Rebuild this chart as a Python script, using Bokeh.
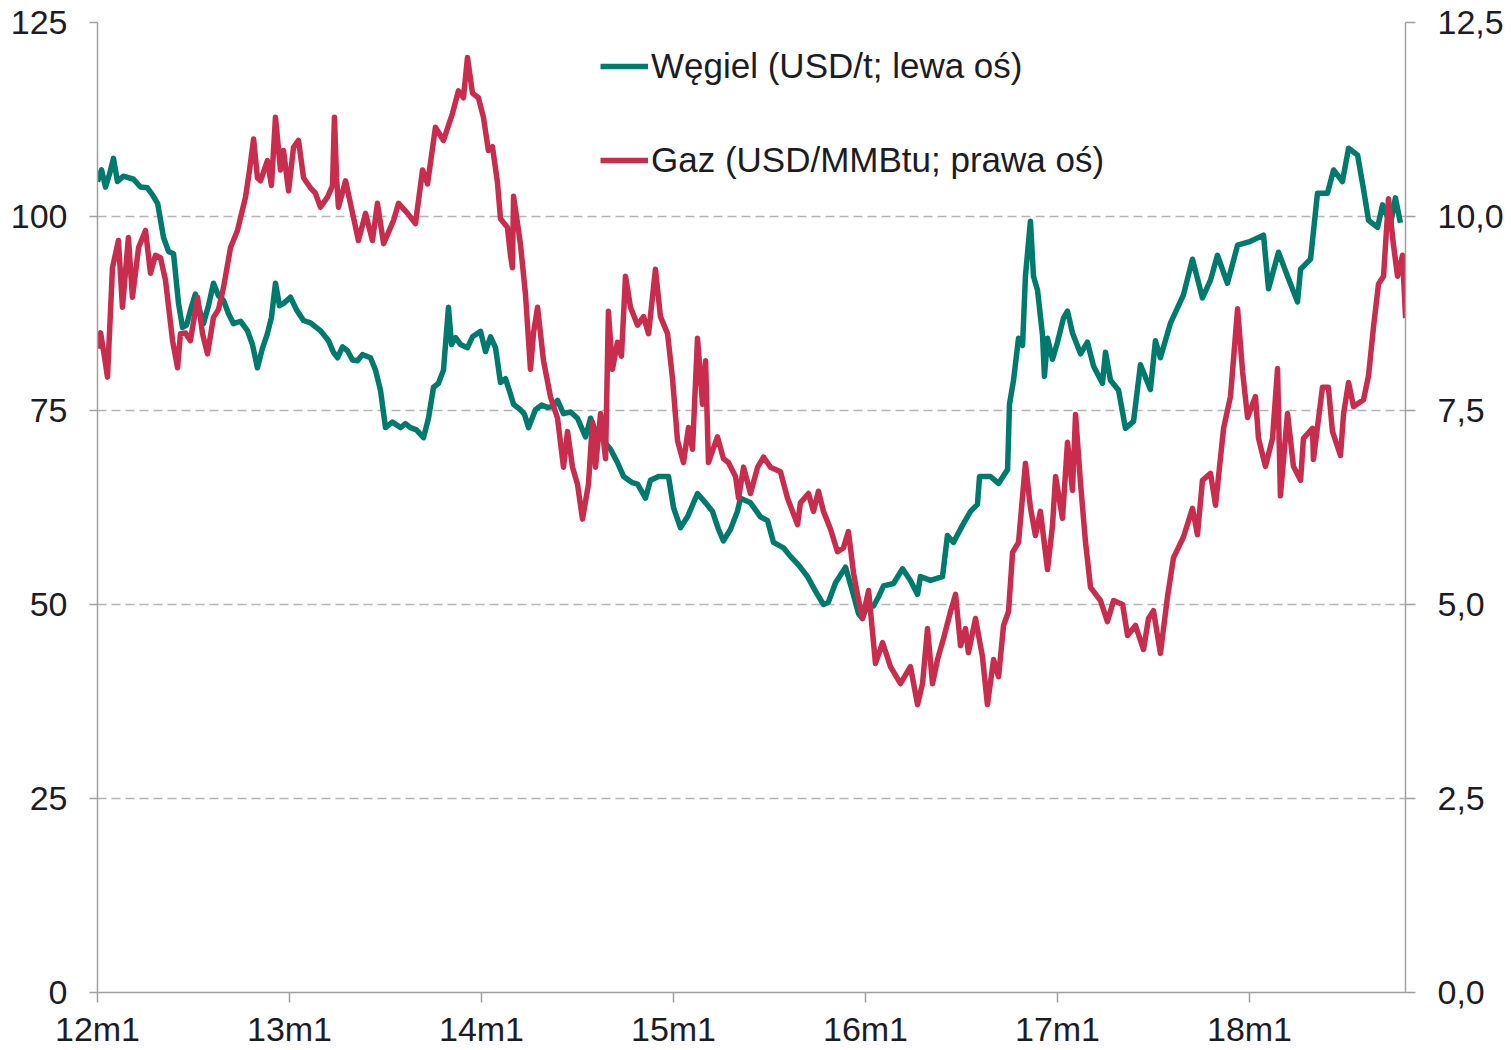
from bokeh.plotting import figure
from bokeh.models import Range1d, LinearAxis, FixedTicker, Legend, LegendItem
from bokeh.embed import file_html
from bokeh.resources import INLINE

# ---------------- data ----------------
# time in decimal years; coal in USD/t (left axis), gas in USD/MMBtu (right axis)
coal_t = [
    2012.000, 2012.021, 2012.042, 2012.063, 2012.083, 2012.104, 2012.135, 2012.188,
    2012.224, 2012.260, 2012.286, 2012.313, 2012.344, 2012.370, 2012.396, 2012.422,
    2012.443, 2012.464, 2012.484, 2012.510, 2012.531, 2012.552, 2012.578, 2012.604,
    2012.630, 2012.656, 2012.682, 2012.708, 2012.745, 2012.781, 2012.807, 2012.833,
    2012.859, 2012.885, 2012.906, 2012.927, 2012.948, 2012.969, 2013.005, 2013.036,
    2013.073, 2013.109, 2013.161, 2013.203, 2013.229, 2013.250, 2013.276, 2013.302,
    2013.328, 2013.354, 2013.380, 2013.422, 2013.448, 2013.474, 2013.500, 2013.536,
    2013.578, 2013.604, 2013.630, 2013.661, 2013.698, 2013.724, 2013.750, 2013.776,
    2013.802, 2013.828, 2013.844, 2013.865, 2013.891, 2013.927, 2013.953, 2013.995,
    2014.021, 2014.047, 2014.073, 2014.099, 2014.125, 2014.146, 2014.167, 2014.203,
    2014.224, 2014.245, 2014.281, 2014.313, 2014.344, 2014.370, 2014.396, 2014.427,
    2014.464, 2014.500, 2014.542, 2014.568, 2014.594, 2014.635, 2014.672, 2014.708,
    2014.740, 2014.786, 2014.813, 2014.854, 2014.880, 2014.922, 2014.974, 2015.000,
    2015.036, 2015.073, 2015.125, 2015.167, 2015.203, 2015.234, 2015.260, 2015.297,
    2015.333, 2015.349, 2015.401, 2015.453, 2015.490, 2015.521, 2015.573, 2015.609,
    2015.651, 2015.698, 2015.740, 2015.781, 2015.807, 2015.844, 2015.896, 2015.932,
    2015.964, 2015.984, 2016.010, 2016.042, 2016.068, 2016.094, 2016.146, 2016.193,
    2016.234, 2016.271, 2016.286, 2016.339, 2016.401, 2016.427, 2016.458, 2016.505,
    2016.547, 2016.583, 2016.594, 2016.651, 2016.693, 2016.740, 2016.750, 2016.771,
    2016.797, 2016.818, 2016.833, 2016.859, 2016.875, 2016.896, 2016.922, 2016.932,
    2016.948, 2016.974, 2017.000, 2017.031, 2017.052, 2017.078, 2017.120, 2017.156,
    2017.188, 2017.234, 2017.250, 2017.276, 2017.318, 2017.354, 2017.396, 2017.432,
    2017.484, 2017.510, 2017.536, 2017.589, 2017.656, 2017.703, 2017.755, 2017.797,
    2017.833, 2017.885, 2017.938, 2018.005, 2018.073, 2018.099, 2018.151, 2018.198,
    2018.250, 2018.266, 2018.318, 2018.354, 2018.406, 2018.438, 2018.484, 2018.516,
    2018.563, 2018.594, 2018.620, 2018.667, 2018.693, 2018.734, 2018.760, 2018.786,
]
coal_v = [
    104.5, 106, 103.8, 105.5, 107.5, 104.5, 105.2, 104.8,
    103.8, 103.7, 102.8, 101.7, 97.3, 95.5, 95.2, 88.8,
    85.7, 86, 87.9, 90, 88, 86.2, 88.5, 91.4,
    89.8, 89.2, 87.5, 86.2, 86.5, 85.3, 83.5, 80.5,
    83, 84.9, 87, 91.4, 88.5, 88.8, 89.6, 88,
    86.6, 86.3, 85.3, 84, 82.5, 81.8, 83.2, 82.7,
    81.5, 81.4, 82.2, 81.8, 80.2, 77.6, 72.8, 73.5,
    72.8, 73.3, 72.8, 72.5, 71.5, 74, 78, 78.5,
    80.2, 88.3, 83.5, 84.4, 83.5, 83.1, 84.5, 85.2,
    82.6, 84.5, 83.1, 78.6, 79.1, 77.5, 75.8, 75.1,
    74.5, 72.8, 75.1, 75.7, 75.4, 75.5, 76.3, 74.6,
    74.8, 74, 71.6, 74, 72.3, 71.1, 70, 68.3,
    66.5, 65.7, 65.5, 63.7, 66, 66.5, 66.5, 62.5,
    59.9, 61.3, 64.3, 63.1, 62, 59.7, 58.2, 59.7,
    62, 63.7, 63.1, 61.3, 60.8, 58, 57.3, 56.2,
    55.1, 53.6, 51.7, 50, 50.3, 52.8, 54.8, 51.7,
    48.8, 48.2, 50, 49.8, 51, 52.4, 52.7, 54.6,
    53.1, 51.3, 53.6, 53.1, 53.6, 58.9, 58, 60.2,
    62, 62.9, 66.5, 66.5, 65.6, 67.4, 75.8, 78.9,
    84.3, 83.4, 92.3, 99.4, 92.3, 90.5, 84.7, 79.4,
    84.3, 81.6, 83.8, 86.9, 87.8, 85, 82.3, 83.8,
    80.7, 78.5, 82.5, 78.9, 77.6, 72.7, 73.6, 80.9,
    77.7, 84, 81.8, 86.3, 89.9, 94.5, 89.5, 91.8,
    95, 91.4, 96.3, 96.8, 97.6, 90.7, 95.4, 92.3,
    89, 93.2, 94.5, 103, 103, 106, 104.5, 108.8,
    107.9, 103.5, 99.5, 98.6, 101.5, 99, 102.4, 99.2,
]

gas_t = [
    2012.000, 2012.016, 2012.036, 2012.052, 2012.078, 2012.109, 2012.130, 2012.161,
    2012.182, 2012.214, 2012.250, 2012.276, 2012.302, 2012.328, 2012.354, 2012.391,
    2012.417, 2012.432, 2012.458, 2012.484, 2012.521, 2012.547, 2012.573, 2012.604,
    2012.630, 2012.656, 2012.693, 2012.729, 2012.771, 2012.792, 2012.813, 2012.833,
    2012.849, 2012.885, 2012.906, 2012.927, 2012.953, 2012.969, 2012.995, 2013.021,
    2013.047, 2013.073, 2013.109, 2013.135, 2013.161, 2013.198, 2013.224, 2013.234,
    2013.245, 2013.255, 2013.292, 2013.333, 2013.359, 2013.396, 2013.432, 2013.458,
    2013.490, 2013.542, 2013.568, 2013.615, 2013.656, 2013.693, 2013.719, 2013.760,
    2013.802, 2013.849, 2013.880, 2013.906, 2013.927, 2013.953, 2013.984, 2014.010,
    2014.036, 2014.057, 2014.083, 2014.099, 2014.135, 2014.151, 2014.161, 2014.167,
    2014.188, 2014.203, 2014.229, 2014.255, 2014.271, 2014.292, 2014.323, 2014.359,
    2014.396, 2014.427, 2014.448, 2014.474, 2014.500, 2014.526, 2014.557, 2014.578,
    2014.594, 2014.620, 2014.646, 2014.661, 2014.682, 2014.708, 2014.729, 2014.750,
    2014.776, 2014.813, 2014.844, 2014.870, 2014.906, 2014.932, 2014.969, 2014.995,
    2015.021, 2015.052, 2015.078, 2015.099, 2015.125, 2015.151, 2015.167, 2015.182,
    2015.229, 2015.260, 2015.286, 2015.323, 2015.339, 2015.365, 2015.401, 2015.438,
    2015.469, 2015.505, 2015.557, 2015.594, 2015.646, 2015.661, 2015.703, 2015.729,
    2015.755, 2015.781, 2015.818, 2015.854, 2015.885, 2015.911, 2015.938, 2015.958,
    2015.984, 2016.016, 2016.052, 2016.089, 2016.130, 2016.182, 2016.234, 2016.271,
    2016.297, 2016.323, 2016.349, 2016.375, 2016.406, 2016.443, 2016.469, 2016.495,
    2016.521, 2016.536, 2016.573, 2016.609, 2016.635, 2016.667, 2016.693, 2016.719,
    2016.745, 2016.766, 2016.797, 2016.833, 2016.859, 2016.885, 2016.911, 2016.948,
    2016.974, 2016.990, 2017.026, 2017.052, 2017.078, 2017.094, 2017.120, 2017.146,
    2017.172, 2017.224, 2017.260, 2017.292, 2017.339, 2017.365, 2017.406, 2017.448,
    2017.474, 2017.500, 2017.536, 2017.573, 2017.604, 2017.656, 2017.703, 2017.729,
    2017.755, 2017.797, 2017.823, 2017.865, 2017.901, 2017.938, 2017.964, 2017.990,
    2018.031, 2018.047, 2018.083, 2018.120, 2018.146, 2018.161, 2018.198, 2018.229,
    2018.266, 2018.281, 2018.328, 2018.333, 2018.380, 2018.411, 2018.432, 2018.474,
    2018.490, 2018.516, 2018.542, 2018.594, 2018.620, 2018.646, 2018.672, 2018.698,
    2018.724, 2018.750, 2018.771, 2018.797, 2018.813,
]
gas_v = [
    8.3, 8.5, 8.2, 7.93, 9.34, 9.69, 8.83, 9.73,
    8.96, 9.6, 9.82, 9.27, 9.5, 9.47, 9.18, 8.4,
    8.05, 8.49, 8.5, 8.4, 8.96, 8.49, 8.23, 8.7,
    8.8, 9.08, 9.6, 9.82, 10.25, 10.6, 11.0, 10.5,
    10.46, 10.72, 10.4, 11.28, 10.6, 10.85, 10.33, 10.89,
    10.98, 10.5, 10.37, 10.3, 10.12, 10.25, 10.4, 11.28,
    10.5, 10.12, 10.46, 9.99, 9.69, 10.04, 9.69, 10.17,
    9.65, 9.95, 10.17, 10.04, 9.91, 10.6, 10.42, 11.15,
    10.98, 11.33, 11.62, 11.53, 12.05, 11.59, 11.53, 11.28,
    10.85, 10.9, 10.44, 9.97, 9.86, 9.5, 9.34, 10.26,
    9.9, 9.64, 9.0, 8.03, 8.5, 8.83, 8.14, 7.68,
    7.4, 6.77, 7.23, 6.77, 6.55, 6.1, 6.55, 7.35,
    6.77, 7.46, 6.88, 8.78, 8.03, 8.38, 8.2, 9.23,
    8.83, 8.6, 8.71, 8.49, 9.32, 8.71, 8.49, 7.91,
    7.11, 6.83, 7.28, 7.0, 8.43, 7.58, 8.14, 6.83,
    7.16, 6.88, 6.83, 6.65, 6.37, 6.77, 6.43, 6.77,
    6.9, 6.77, 6.71, 6.37, 6.03, 6.31, 6.43, 6.2,
    6.46, 6.2, 5.97, 5.68, 5.73, 5.94, 5.4, 5.13,
    4.82, 5.18, 4.24, 4.51, 4.2, 3.98, 4.2, 3.71,
    3.98, 4.69, 3.98, 4.29, 4.56, 4.91, 5.13, 4.47,
    4.69, 4.38, 4.82, 4.33, 3.71, 4.29, 4.07, 4.73,
    4.91, 5.67, 5.8, 6.82, 6.25, 5.89, 6.2, 5.45,
    6.02, 6.65, 6.11, 7.09, 6.47, 7.45, 6.56, 5.8,
    5.22, 5.05, 4.78, 5.05, 5.0, 4.6, 4.73, 4.42,
    4.82, 4.92, 4.37, 5.10, 5.6, 5.87, 6.24, 5.9,
    6.6, 6.69, 6.28, 7.27, 7.68, 8.81, 8.0, 7.41,
    7.68, 7.14, 6.78, 7.14, 8.04, 6.4, 7.46, 6.78,
    6.6, 7.14, 7.27, 6.87, 7.8, 7.8, 7.23, 6.92,
    7.46, 7.86, 7.55, 7.64, 7.95, 8.58, 9.13, 9.23,
    10.23, 9.63, 9.23, 9.5, 8.69,
]

x_ticks = [2012, 2013, 2014, 2015, 2016, 2017, 2018]
x_tick_labels = ["12m1", "13m1", "14m1", "15m1", "16m1", "17m1", "18m1"]
left_ticks = [0, 25, 50, 75, 100, 125]
left_tick_labels = ["0", "25", "50", "75", "100", "125"]
right_ticks = [0, 2.5, 5, 7.5, 10, 12.5]
right_tick_labels = ["0,0", "2,5", "5,0", "7,5", "10,0", "12,5"]
series_names = ["Węgiel (USD/t; lewa oś)", "Gaz (USD/MMBtu; prawa oś)"]

# ---------------- styling ----------------
TEAL = "#007a6c"
RED = "#c82d4d"
TXT = "#1c1c24"
AXC = "#a0a0a0"
FONT = "Liberation Sans"
FS = "34px"

W, H = 1511, 1050
FL, FR, FT, FB = 97, 1405, 22, 992   # frame edges in page pixels
p = figure(width=W, height=H, output_backend="svg", toolbar_location=None,
           x_range=Range1d(2012.0, 2018.8125), y_range=Range1d(0, 125),
           min_border_left=FL, min_border_right=W - FR,
           min_border_top=FT, min_border_bottom=H - FB)
p.extra_y_ranges = {"gas": Range1d(0, 12.5)}
p.outline_line_color = None
p.background_fill_color = "white"
p.border_fill_color = "white"

r_coal = p.line(coal_t, coal_v, line_color=TEAL, line_width=5.5, line_join="round")
r_gas = p.line(gas_t, gas_v, line_color=RED, line_width=5.5, line_join="round",
               y_range_name="gas")

# x axis
xa = p.xaxis[0]
xa.ticker = FixedTicker(ticks=x_ticks)
xa.major_label_overrides = dict(zip(x_ticks, x_tick_labels))
xa.minor_tick_line_color = None
xa.major_tick_in = 0
xa.major_tick_out = 10
xa.major_label_standoff = 7

# left axis
ya = p.yaxis[0]
ya.ticker = FixedTicker(ticks=left_ticks)
ya.major_label_overrides = dict(zip(left_ticks, left_tick_labels))
ya.minor_tick_line_color = None
ya.major_tick_in = 0
ya.major_tick_out = 8
ya.major_label_standoff = 22

# right axis
ra = LinearAxis(y_range_name="gas", ticker=FixedTicker(ticks=right_ticks))
ra.major_label_overrides = dict(zip(right_ticks, right_tick_labels))
ra.minor_tick_line_color = None
ra.major_tick_in = 0
ra.major_tick_out = 10
ra.major_label_standoff = 22
p.add_layout(ra, "right")

for ax in (xa, ya, ra):
    ax.axis_line_color = AXC
    ax.axis_line_width = 1.5
    ax.major_tick_line_color = AXC
    ax.major_tick_line_width = 1.5
    ax.major_label_text_font = FONT
    ax.major_label_text_font_size = FS
    ax.major_label_text_color = TXT

p.xgrid.visible = False
p.ygrid.ticker = FixedTicker(ticks=[25, 50, 75, 100, 125])
p.ygrid.grid_line_color = "#b4b4b4"
p.ygrid.grid_line_width = 1.5
p.ygrid.grid_line_dash = "9 5"

legend = Legend(
    items=[LegendItem(label=series_names[0], renderers=[r_coal]),
           LegendItem(label=series_names[1], renderers=[r_gas])],
    location=(503, 812), glyph_width=48, glyph_height=20, label_standoff=3,
    spacing=54, padding=0, margin=0, border_line_color=None,
    background_fill_alpha=0, label_text_font=FONT, label_text_font_size="35px",
    label_text_color=TXT)
p.add_layout(legend)

open("out.html", "w").write(file_html(p, INLINE))
